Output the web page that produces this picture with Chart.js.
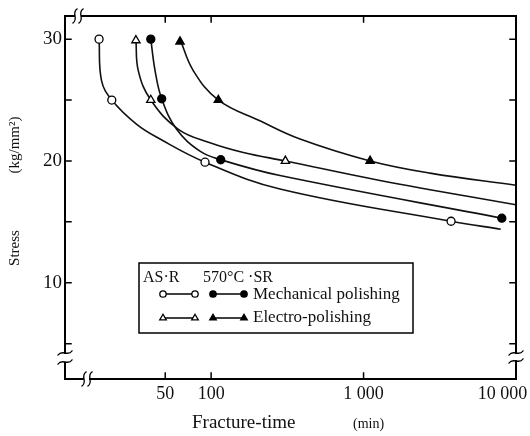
<!DOCTYPE html>
<html>
<head>
<meta charset="utf-8">
<script src="https://cdn.jsdelivr.net/npm/chart.js@4.4.1/dist/chart.umd.min.js"></script>
<style>
  html, body { margin: 0; padding: 0; background: #fff; }
</style>
</head>
<body>
<canvas id="chartStress" width="530" height="436"></canvas>
<script>
// axis ticks
const timeTicks = [50, 100, 1000, 10000];
const timeTickLabels = ['50', '100', '1 000', '10 000'];
const stressTicks = [5, 10, 15, 20, 25, 30];
const stressTickLabels = ['', '10', '', '20', '', '30'];

// measured points (min, kg/mm2)
const asrMechTime = [18.4, 22.3, 91.2, 3750];
const asrMechStress = [30, 25, 19.9, 15.05];
const srMechTime = [40.2, 47.4, 115.6, 8072];
const srMechStress = [30, 25.1, 20.1, 15.3];
const asrElecTime = [32.1, 40.2, 307];
const asrElecStress = [29.9, 25, 20];
const srElecTime = [62.5, 111.5, 1104];
const srElecStress = [29.8, 25, 20];

// fitted curves
const asrMechCurveTime = [18.4, 19.1, 22.3, 32.5, 46.2, 91.2, 283, 3750, 7940];
const asrMechCurveStress = [30, 26.6, 25, 23.0, 21.8, 19.9, 17.7, 15.05, 14.4];
const srMechCurveTime = [40.2, 42.9, 47.4, 59.4, 84.5, 115.6, 283, 8072];
const srMechCurveStress = [30, 27.4, 25.1, 22.6, 20.8, 20.1, 18.8, 15.3];
const asrElecCurveTime = [32.1, 33.3, 40.2, 61, 98.3, 162.6, 307, 1282, 10000];
const asrElecCurveStress = [30, 27.4, 25, 22.6, 21.5, 20.7, 20.0, 18.4, 16.4];
const srElecCurveTime = [62.5, 76.5, 111.5, 209, 383, 1104, 2727, 10000];
const srElecCurveStress = [30, 27.4, 25, 23.3, 21.8, 20, 19.0, 18.0];

const SERIF = '"Liberation Serif", "DejaVu Serif", serif';

function zip(xs, ys) {
  return xs.map((x, i) => ({ x: x, y: ys[i] }));
}

function curve(xs, ys) {
  return {
    data: zip(xs, ys), showLine: true, pointRadius: 0, borderColor: '#111',
    borderWidth: 1.6, tension: 0.4, order: 1
  };
}

function marks(xs, ys, style, filled) {
  return {
    data: zip(xs, ys), showLine: false, pointStyle: style,
    pointRadius: style === 'triangle' ? 4.8 : 4,
    pointBackgroundColor: filled ? '#000' : '#fff',
    pointBorderColor: '#000', pointBorderWidth: 1.3, order: 0
  };
}

function vBreak(ctx, x, y) {
  // little "~" across a vertical axis
  ctx.beginPath();
  ctx.moveTo(x - 7, y + 2);
  ctx.bezierCurveTo(x - 3, y - 4, x + 3, y + 4, x + 7, y - 2);
  ctx.stroke();
}

function hBreak(ctx, x, y) {
  ctx.beginPath();
  ctx.moveTo(x - 2, y + 7);
  ctx.bezierCurveTo(x + 4, y + 3, x - 4, y - 3, x + 2, y - 7);
  ctx.stroke();
}

const framePlugin = {
  id: 'frame',
  afterDraw(chart) {
    const ctx = chart.ctx;
    const a = chart.chartArea;
    const xs = chart.scales.x;
    const ys = chart.scales.y;
    ctx.save();
    ctx.strokeStyle = '#000';
    ctx.lineWidth = 2;
    ctx.lineCap = 'square';

    // box with broken corners
    ctx.beginPath();
    ctx.moveTo(a.left, a.top); ctx.lineTo(a.left + 9, a.top);
    ctx.moveTo(a.left + 17, a.top); ctx.lineTo(a.right, a.top);
    ctx.lineTo(a.right, a.bottom - 26);
    ctx.moveTo(a.right, a.bottom - 18); ctx.lineTo(a.right, a.bottom);
    ctx.lineTo(a.left + 25, a.bottom);
    ctx.moveTo(a.left + 18, a.bottom); ctx.lineTo(a.left, a.bottom);
    ctx.lineTo(a.left, a.bottom - 16);
    ctx.moveTo(a.left, a.bottom - 26); ctx.lineTo(a.left, a.top);
    ctx.stroke();

    ctx.lineWidth = 1.3;
    hBreak(ctx, a.left + 10, a.top);
    hBreak(ctx, a.left + 16, a.top);
    hBreak(ctx, a.left + 19, a.bottom);
    hBreak(ctx, a.left + 25, a.bottom);
    vBreak(ctx, a.left, a.bottom - 26);
    vBreak(ctx, a.left, a.bottom - 17);
    vBreak(ctx, a.right, a.bottom - 26);
    vBreak(ctx, a.right, a.bottom - 18);

    // inward ticks
    ctx.lineWidth = 1.5;
    ctx.beginPath();
    stressTicks.forEach(v => {
      const y = ys.getPixelForValue(v);
      ctx.moveTo(a.left, y); ctx.lineTo(a.left + 6, y);
      ctx.moveTo(a.right, y); ctx.lineTo(a.right - 6, y);
    });
    timeTicks.slice(0, -1).forEach(v => {
      const x = xs.getPixelForValue(v);
      ctx.moveTo(x, a.bottom); ctx.lineTo(x, a.bottom - 6);
      ctx.moveTo(x, a.top); ctx.lineTo(x, a.top + 6);
    });
    ctx.stroke();

    // axis titles
    ctx.fillStyle = '#111';
    ctx.textBaseline = 'alphabetic';
    ctx.font = '19px ' + SERIF;
    ctx.textAlign = 'left';
    ctx.fillText('Fracture-time', 192, 428);
    ctx.font = '14px ' + SERIF;
    ctx.fillText('(min)', 353, 428);

    ctx.save();
    ctx.translate(19, 0);
    ctx.rotate(-Math.PI / 2);
    ctx.textAlign = 'center';
    ctx.font = '15px ' + SERIF;
    ctx.fillText('Stress', -248, 0);
    ctx.fillText('(kg/mm²)', -145, 0);
    ctx.restore();

    // legend
    ctx.lineWidth = 1.5;
    ctx.strokeRect(139, 263, 274, 70);
    ctx.font = '16px ' + SERIF;
    ctx.textAlign = 'left';
    ctx.fillText('AS·R', 143, 282);
    ctx.fillText('570°C ·SR', 203, 282);
    ctx.font = '17px ' + SERIF;
    ctx.fillText('Mechanical polishing', 253, 299);
    ctx.fillText('Electro-polishing', 253, 322);

    const rows = [
      { y: 294, style: 'circle', r: 3.2 },
      { y: 318, style: 'triangle', r: 3.8 }
    ];
    rows.forEach(row => {
      [[163, 195, false], [213, 244, true]].forEach(([x0, x1, filled]) => {
        ctx.lineWidth = 1.3;
        ctx.strokeStyle = '#000';
        ctx.beginPath();
        ctx.moveTo(x0, row.y); ctx.lineTo(x1, row.y);
        ctx.stroke();
        ctx.fillStyle = filled ? '#000' : '#fff';
        [x0, x1].forEach(x => {
          Chart.helpers.drawPoint(ctx, { pointStyle: row.style, radius: row.r, borderWidth: 1.3, rotation: 0 }, x, row.y);
        });
      });
    });
    ctx.restore();
  }
};

new Chart(document.getElementById('chartStress'), {
  type: 'scatter',
  data: {
    datasets: [
      marks(asrMechTime, asrMechStress, 'circle', false),
      marks(srMechTime, srMechStress, 'circle', true),
      marks(asrElecTime, asrElecStress, 'triangle', false),
      marks(srElecTime, srElecStress, 'triangle', true),
      curve(asrMechCurveTime, asrMechCurveStress),
      curve(srMechCurveTime, srMechCurveStress),
      curve(asrElecCurveTime, asrElecCurveStress),
      curve(srElecCurveTime, srElecCurveStress)
    ]
  },
  options: {
    responsive: false,
    animation: false,
    devicePixelRatio: 1,
    layout: { padding: { top: 16, right: 14, left: 0, bottom: 0 } },
    plugins: {
      legend: { display: false },
      tooltip: { enabled: false }
    },
    scales: {
      x: {
        type: 'logarithmic',
        min: 11,
        max: 10000,
        afterBuildTicks: s => { s.ticks = timeTicks.map(v => ({ value: v })); },
        afterFit: s => { s.height = 57; s.paddingLeft = 0; s.paddingRight = 0; },
        ticks: {
          autoSkip: false, maxRotation: 0, padding: 4, color: '#111',
          font: { family: SERIF, size: 18 },
          // last label sits left of its tick in the original
          callback: (v, i) => i === timeTicks.length - 1 ? timeTickLabels[i] + '\u2003\u2002' : timeTickLabels[i]
        },
        grid: { display: false, drawTicks: false },
        border: { display: false }
      },
      y: {
        min: 2.1,
        max: 31.9,
        afterBuildTicks: s => { s.ticks = stressTicks.map(v => ({ value: v })); },
        afterFit: s => { s.width = 65; s.paddingTop = 0; s.paddingBottom = 0; },
        ticks: {
          autoSkip: false, padding: 3, color: '#111',
          font: { family: SERIF, size: 19 },
          callback: (v, i) => stressTickLabels[i]
        },
        grid: { display: false, drawTicks: false },
        border: { display: false }
      }
    }
  },
  plugins: [framePlugin]
});
</script>
</body>
</html>
